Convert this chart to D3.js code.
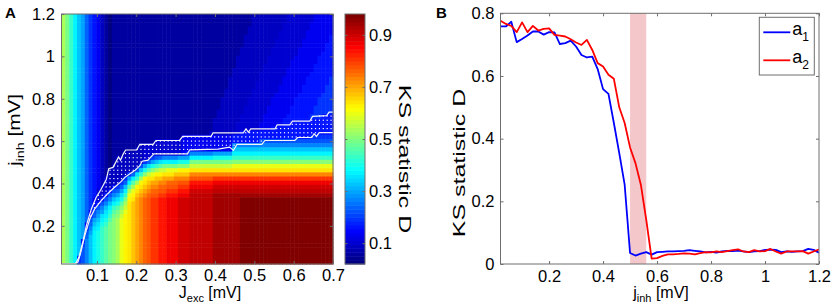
<!DOCTYPE html>
<html>
<head>
<meta charset="utf-8">
<script src="https://cdn.jsdelivr.net/npm/d3@7"></script>
<style>
  body { margin: 0; background: #fff; }
  svg { display: block; }
</style>
</head>
<body>
<svg id="fig" width="833" height="307"></svg>
<script>
// ---------------- data ----------------

// Panel A: KS statistic D over (Jexc, jinh).
// One string per Jexc column (0.01 .. 0.70, left to right); the characters run
// from jinh = 1.2 (top) down to 0.02 (bottom). Each character is a level 0..35
// spread over the colour bar range; spaces are only there to count rows in tens.
const levelChars = "0123456789abcdefghijklmnopqrstuvwxyz";
const heatCols = [
  "jjjjjjjjjj jjjjjjjjjj jjjjjjjjjj jjjjjjjjjj jjjjjjjjjj jjjjjjjjjj",
  "hhhhhhhhhh hhhhhhhhhh hhhhhhhhhh hhhhhhhhhh hhhhhhhhhh hhhhhhhhhh",
  "ffffffffff ffffffffff ffffffffff ffffffffff ffffffffff ffffffffff",
  "dddddddddd dddddddddd dddddddddd dddddddddd dddddddddd dddddddddd",
  "bbbbbbbbbb bbbbbbbbbb bbbbbbbbbb bbbbbbbbbb bbbbbbbbbb bbbbbbbb66",
  "aaaaaaaaaa aaaaaaaaaa aaaaaaaaaa aaaaaaaaaa aaaaaaaaaa aaaa567777",
  "8888888888 8888888888 8888888888 8888888888 8888888888 4578999999",
  "6666666666 6666666666 6666666666 6666666666 6666666457 89abbbbbbb",
  "5555555555 5555555555 5555555555 5555555555 555544578a bcdddddddd",
  "4444444444 4444444444 4444444444 4444444444 44333579ab cdeeeeeeee",
  "2222222222 2222222222 2222222222 2222222222 2333579acd efffffffff",
  "1111111111 1111111111 1111111111 1111111113 333579bcde fggggggggg",
  "0000000000 0000000000 0000000000 0000000222 22579bdefg hhhhhhhhhh",
  "1111111111 1111111111 1111111111 1111112222 2579bdfghi iiiiiiiiii",
  "1111111111 1111111111 1111111111 1111222222 268aceghij jjjjjjjjjj",
  "1111111111 1111111111 1111111111 1111222222 68acegijkl llllllllll",
  "1111111111 1111111111 1111111111 1112222226 8bdfhjklmm mmmmmmmmmm",
  "1111111111 1111111111 1111111111 111222226a dgjlmnnnnn nnnnnnnnnn",
  "1111111111 1111111111 1111111111 111222228d gjlmnooooo oooooooooo",
  "1111111111 1111111111 1111111111 11222227cf jmnopppppp pppppppppp",
  "1111111111 1111111111 1111111111 1222227bfj mnopqqqqqq qqqqqqqqqq",
  "1111111111 1111111111 1111111111 133336aeim nopqrrrrrr rrrrrrrrrr",
  "1111111111 1111111111 1111111111 133338cgkn opqrssssss ssssssssss",
  "1111111111 1111111111 1111111111 13336aeiln pqrstttttt tttttttttt",
  "1111111111 1111111111 1111111111 33337bfjmo pqrstttttt tttttttttt",
  "1111111111 1111111111 1111111111 33338cgkmo qrstuuuuuu uuuuuuuuuu",
  "1111111111 1111111111 1111111111 33339dhknp qrstuuuuuu uuuuuuuuuu",
  "1111111111 1111111111 1111111111 33339dhlnp rstuvvvvvv vvvvvvvvvv",
  "1111111111 1111111111 1111111111 33339dhlnp rstuvvvvvv vvvvvvvvvv",
  "1111111111 1111111111 1111111111 33339dhloq rstuvvvvvv vvvvvvvvvv",
  "1111111111 1111111111 1111111111 3333aeimoq stuvwwwwww wwwwwwwwww",
  "1111111111 1111111111 1111111114 4444aeimoq stuvwwwwww wwwwwwwwww",
  "1111111111 1111111111 1111111114 4446aeimoq stuvwwwwww wwwwwwwwww",
  "1111111111 1111111111 1111111114 4449dhknqs uvwxxxxxxx xxxxxxxxxx",
  "1111111111 1111111111 1111111114 4449dhknqs uvwxxxxxxx xxxxxxxxxx",
  "1111111111 1111111111 1111111114 4449dhknqs uvwxxxxxxx xxxxxxxxxx",
  "1111111111 1111111111 1111111114 4449dhknqs uvwxxxxxxx xxxxxxxxxx",
  "1111111111 1111111111 1111111114 4449dhknqs uvwxxxxxxx xxxxxxxxxx",
  "1111111111 1111111111 1111111124 4449dhknqs uvwxxxxxxx xxxxxxxxxx",
  "1111111111 1111111111 1111122224 444aehknqt vwxyyyyyyy yyyyyyyyyy",
  "1111111111 1111111111 1112222224 444aehknqt vwxyyyyyyy yyyyyyyyyy",
  "1111111111 1111111111 2222222224 444aehknqt vwxyyyyyyy yyyyyyyyyy",
  "1111111111 1111111122 2222222224 444aehknqt vwxyyyyyyy yyyyyyyyyy",
  "1111111111 1111122222 2222222224 444aehknqt vwxyyyyyyy yyyyyyyyyy",
  "1111111111 1112222222 2222222235 59bdfilnqt vwxyyyyyyy yyyyyyyyyy",
  "1111111111 2222222222 2222223335 59bdfilnqt vwxyyyyyyy yyyyyyyyyy",
  "1111111122 2222222222 2222333355 59bdfilnqt vwxyzzzzzz zzzzzzzzzz",
  "1111122222 2222222222 2233333355 59bdfilnqt vwxyzzzzzz zzzzzzzzzz",
  "1112222222 2222222222 3333333355 59bdfilnqt vwxyzzzzzz zzzzzzzzzz",
  "2222222222 2222222233 3333333355 59bdfilnqt vwxyzzzzzz zzzzzzzzzz",
  "2222222222 2222223333 3333333355 59bdfilnqt vwxyzzzzzz zzzzzzzzzz",
  "2222222222 2222333333 3333334455 79bdfilnqt vwxyzzzzzz zzzzzzzzzz",
  "2222222222 2233333333 3333444455 79bdfilnqt vwxyzzzzzz zzzzzzzzzz",
  "2222222222 3333333333 3344444455 79bdfilnqt vwxyzzzzzz zzzzzzzzzz",
  "2222222233 3333333333 4444444555 79bdfilnqt vwxyzzzzzz zzzzzzzzzz",
  "2222223333 3333333334 4444444555 79bdfilnqt vwxyzzzzzz zzzzzzzzzz",
  "2222333333 3333333444 4444444555 79bdfilnqt vwxyzzzzzz zzzzzzzzzz",
  "2233333333 3333344444 4444455555 79bdfilnqt vwxyzzzzzz zzzzzzzzzz",
  "3333333333 3334444444 4444555555 79bdfilnqt vwxyzzzzzz zzzzzzzzzz",
  "3333333333 3444444444 4455555555 79bdfilnqt vwxyzzzzzz zzzzzzzzzz",
  "3333333333 4444444444 5555555555 79bdfilnqt vwxyzzzzzz zzzzzzzzzz",
  "3333333344 4444444445 5555555555 79bdfilnqt vwxyzzzzzz zzzzzzzzzz",
  "3333334444 4444444555 5555555555 79bdfilnqt vwxyzzzzzz zzzzzzzzzz",
  "3333444444 4444455555 5555555555 79bdfilnqt vwxyzzzzzz zzzzzzzzzz",
  "3344444444 4444555555 5555655556 79bdfilnqt vwxyzzzzzz zzzzzzzzzz",
  "4444444444 4455555555 5566655556 79bdfilnqt vwxyzzzzzz zzzzzzzzzz",
  "4444444444 5555555555 6666655556 79bdfilnqt vwxyzzzzzz zzzzzzzzzz",
  "4444444445 5555555556 6666555556 79bdfilnqt vwxyzzzzzz zzzzzzzzzz",
  "4444444555 5555555666 6666555556 79bdfilnqt vwxyzzzzzz zzzzzzzzzz",
  "4444455555 5555566666 6666555556 79bdfilnqt vwxyzzzzzz zzzzzzzzzz"
];
const jexcExtent = [0.01, 0.70];
const jinhExtent = [0.02, 1.2];
const colorbarExtent = [0.02, 0.98];
const aXTicks = [0.1, 0.2, 0.3, 0.4, 0.5, 0.6, 0.7];
const aYTicks = [0.2, 0.4, 0.6, 0.8, 1, 1.2];
const cbTicks = [0.1, 0.3, 0.5, 0.7, 0.9];

// white contour lines around the dotted region, [Jexc, jinh]
const upperContour = [
  [0.01, 0.022], [0.046, 0.022], [0.054, 0.05], [0.065, 0.13], [0.073, 0.2],
  [0.086, 0.28], [0.098, 0.334], [0.111, 0.374], [0.124, 0.42], [0.13, 0.47],
  [0.141, 0.476], [0.155, 0.525], [0.16, 0.51], [0.167, 0.54], [0.173, 0.558],
  [0.201, 0.558], [0.209, 0.585], [0.243, 0.585], [0.25, 0.603], [0.31, 0.603],
  [0.318, 0.622], [0.39, 0.622], [0.395, 0.639], [0.472, 0.639], [0.479, 0.658],
  [0.485, 0.642], [0.491, 0.658], [0.553, 0.658], [0.558, 0.677], [0.59, 0.677],
  [0.597, 0.694], [0.641, 0.694], [0.648, 0.717], [0.684, 0.72], [0.69, 0.737],
  [0.70, 0.737]
];
const lowerContour = [
  [0.046, 0.022], [0.052, 0.03], [0.06, 0.082], [0.069, 0.153], [0.082, 0.232],
  [0.094, 0.279], [0.111, 0.319], [0.128, 0.353], [0.145, 0.382], [0.162, 0.41],
  [0.171, 0.429], [0.183, 0.445], [0.196, 0.461], [0.209, 0.484], [0.215, 0.505],
  [0.23, 0.51], [0.238, 0.527], [0.245, 0.54], [0.33, 0.54], [0.336, 0.559],
  [0.408, 0.562], [0.437, 0.572], [0.447, 0.556], [0.456, 0.585], [0.519, 0.585],
  [0.527, 0.603], [0.603, 0.603], [0.61, 0.617], [0.646, 0.617], [0.652, 0.635],
  [0.658, 0.622], [0.665, 0.64], [0.70, 0.64]
];

// Panel B: KS statistic D against jinh for a1 and a2
const jinhB = [
  0.02, 0.04, 0.06, 0.08, 0.10, 0.12, 0.14, 0.16, 0.18, 0.20,
  0.22, 0.24, 0.26, 0.28, 0.30, 0.32, 0.34, 0.36, 0.38, 0.40,
  0.42, 0.44, 0.46, 0.48, 0.50, 0.52, 0.54, 0.56, 0.58, 0.60,
  0.62, 0.64, 0.66, 0.68, 0.70, 0.72, 0.74, 0.76, 0.78, 0.80,
  0.82, 0.84, 0.86, 0.88, 0.90, 0.92, 0.94, 0.96, 0.98, 1.00,
  1.02, 1.04, 1.06, 1.08, 1.10, 1.12, 1.14, 1.16, 1.18, 1.20
];
const ksA1 = [
  0.758, 0.758, 0.773, 0.708, 0.718, 0.729, 0.742, 0.742, 0.732, 0.740,
  0.739, 0.702, 0.705, 0.713, 0.694, 0.667, 0.659, 0.662, 0.622, 0.558,
  0.543, 0.450, 0.354, 0.253, 0.035, 0.027, 0.033, 0.038, 0.030, 0.038,
  0.039, 0.040, 0.040, 0.041, 0.042, 0.044, 0.042, 0.040, 0.037, 0.039,
  0.036, 0.040, 0.042, 0.041, 0.043, 0.040, 0.038, 0.040, 0.041, 0.045,
  0.046, 0.045, 0.038, 0.040, 0.039, 0.040, 0.041, 0.048, 0.045, 0.036
];
const ksA2 = [
  0.776, 0.766, 0.760, 0.740, 0.771, 0.740, 0.760, 0.745, 0.750, 0.752,
  0.731, 0.729, 0.726, 0.717, 0.707, 0.699, 0.715, 0.683, 0.641, 0.630,
  0.604, 0.591, 0.500, 0.450, 0.372, 0.322, 0.253, 0.141, 0.017, 0.019,
  0.026, 0.031, 0.031, 0.032, 0.034, 0.033, 0.031, 0.035, 0.038, 0.037,
  0.040, 0.038, 0.041, 0.044, 0.047, 0.040, 0.038, 0.044, 0.040, 0.041,
  0.048, 0.040, 0.033, 0.040, 0.040, 0.040, 0.041, 0.033, 0.040, 0.046
];
const shadedBand = [0.5, 0.56];
const bXDomain = [0.02, 1.2];
const bYDomain = [0, 0.8];
const bXTicks = [0.2, 0.4, 0.6, 0.8, 1, 1.2];
const bYTicks = [0, 0.2, 0.4, 0.6, 0.8];
const seriesNames = ["1", "2"];
const seriesColors = ["#0000ff", "#ff0000"];

// ---------------- drawing ----------------
const fontFamily = '"Liberation Sans", Arial, Helvetica, sans-serif';
const axisGray = "#6e6e6e";
const tickFmt = d3.format("~g");
const svg = d3.select("#fig").attr("font-family", fontFamily);

// MATLAB style jet colormap, 64 steps
function jet(t) {
  t = Math.round(Math.max(0, Math.min(1, t)) * 63) / 63;
  const ch = (v) => Math.round(255 * Math.max(0, Math.min(1, 1.5 - Math.abs(v))));
  return `rgb(${ch(4 * t - 3)},${ch(4 * t - 2)},${ch(4 * t - 1)})`;
}

function styleAxis(g, keepLabels) {
  g.attr("font-family", fontFamily).attr("font-size", 16.5);
  g.select(".domain").remove();
  g.selectAll(".tick line").attr("stroke", axisGray);
  g.selectAll(".tick text").attr("fill", "#000");
  if (!keepLabels) g.selectAll(".tick text").remove();
}

function subLabel(sel, main, sub, rest) {
  sel.append("tspan").text(main);
  sel.append("tspan").attr("font-size", 11).attr("dy", 4).text(sub);
  sel.append("tspan").attr("dy", -4).text(rest);
}

// ---- panel A: heat map ----
const aBox = { left: 61.5, right: 333, top: 14, bottom: 264 };
const aX = d3.scaleLinear().domain(jexcExtent).range([aBox.left, aBox.right]);
const aY = d3.scaleLinear().domain(jinhExtent).range([aBox.bottom, aBox.top]);
const grid = heatCols.map((s) => s.replace(/ /g, ""));
const nRows = grid[0].length;
const colBand = d3.scaleBand().domain(d3.range(grid.length)).range([aBox.left, aBox.right]);
const rowBand = d3.scaleBand().domain(d3.range(nRows)).range([aBox.top, aBox.bottom]);
const levelToD = d3.scaleLinear().domain([0, levelChars.length - 1]).range(colorbarExtent);
const cbNorm = d3.scaleLinear().domain(colorbarExtent).range([0, 1]);

const cells = [];
grid.forEach((col, c) => {
  for (let r = 0; r < nRows; r++) {
    const ch = col[r] || col[col.length - 1];
    cells.push({ c, r, d: levelToD(levelChars.indexOf(ch)) });
  }
});

const gA = svg.append("g");
gA.append("g")
  .selectAll("rect")
  .data(cells)
  .join("rect")
  .attr("x", (d) => colBand(d.c))
  .attr("y", (d) => rowBand(d.r))
  .attr("width", colBand.bandwidth() + 0.5)
  .attr("height", rowBand.bandwidth() + 0.5)
  .attr("fill", (d) => jet(cbNorm(d.d)));

// dotted region between the two contours
const hatchPoly = upperContour
  .concat(lowerContour.slice().reverse())
  .map(([j, i]) => [aX(j), aY(i)]);
const dots = cells.filter((d) =>
  d3.polygonContains(hatchPoly, [
    colBand(d.c) + colBand.bandwidth() / 2,
    rowBand(d.r) + rowBand.bandwidth() / 2,
  ])
);
gA.append("g")
  .selectAll("rect")
  .data(dots)
  .join("rect")
  .attr("x", (d) => colBand(d.c) + colBand.bandwidth() / 2 - 0.6)
  .attr("y", (d) => rowBand(d.r) + rowBand.bandwidth() / 2 - 0.6)
  .attr("width", 1.2)
  .attr("height", 1.2)
  .attr("fill", "#fff");

const contourLine = d3.line().x((p) => aX(p[0])).y((p) => aY(p[1]));
gA.selectAll("path.contour")
  .data([upperContour, lowerContour])
  .join("path")
  .attr("class", "contour")
  .attr("d", contourLine)
  .attr("fill", "none")
  .attr("stroke", "#f4f4f4")
  .attr("stroke-width", 1.2);

gA.append("rect")
  .attr("x", aBox.left).attr("y", aBox.top)
  .attr("width", aBox.right - aBox.left).attr("height", aBox.bottom - aBox.top)
  .attr("fill", "none").attr("stroke", axisGray);

gA.append("g").attr("transform", `translate(0,${aBox.bottom})`)
  .call(d3.axisBottom(aX).tickValues(aXTicks).tickSize(-3).tickPadding(5).tickFormat(tickFmt))
  .call((g) => styleAxis(g, true));
gA.append("g").attr("transform", `translate(0,${aBox.top})`)
  .call(d3.axisTop(aX).tickValues(aXTicks).tickSize(-3))
  .call((g) => styleAxis(g, false));
gA.append("g").attr("transform", `translate(${aBox.left},0)`)
  .call(d3.axisLeft(aY).tickValues(aYTicks).tickSize(-3).tickPadding(6.5).tickFormat(tickFmt))
  .call((g) => styleAxis(g, true));
gA.append("g").attr("transform", `translate(${aBox.right},0)`)
  .call(d3.axisRight(aY).tickValues(aYTicks).tickSize(-3))
  .call((g) => styleAxis(g, false));

gA.append("text")
  .attr("x", 210).attr("y", 298)
  .attr("text-anchor", "middle").attr("font-size", 16)
  .call((t) => subLabel(t, "J", "exc", " [mV]"));
// rotated labels are drawn stretched along their length, as in the original figure
gA.append("text")
  .attr("transform", "translate(20,130) rotate(-90) scale(1.3,1)")
  .attr("text-anchor", "middle").attr("font-size", 16)
  .call((t) => subLabel(t, "j", "inh", " [mV]"));

// colour bar
const cbBox = { left: 345, right: 365, top: 14, bottom: 264 };
const cbY = d3.scaleLinear().domain(colorbarExtent).range([cbBox.bottom, cbBox.top]);
const cbSteps = d3.range(64).map((i) => [
  levelToD(i * 35 / 64), levelToD((i + 1) * 35 / 64),
]);
gA.append("g")
  .selectAll("rect")
  .data(cbSteps)
  .join("rect")
  .attr("x", cbBox.left)
  .attr("y", (d) => cbY(d[1]))
  .attr("width", cbBox.right - cbBox.left)
  .attr("height", (d) => cbY(d[0]) - cbY(d[1]) + 0.5)
  .attr("fill", (d) => jet(cbNorm((d[0] + d[1]) / 2)));
gA.append("rect")
  .attr("x", cbBox.left).attr("y", cbBox.top)
  .attr("width", cbBox.right - cbBox.left).attr("height", cbBox.bottom - cbBox.top)
  .attr("fill", "none").attr("stroke", axisGray);
gA.append("g").attr("transform", `translate(${cbBox.right},0)`)
  .call(d3.axisRight(cbY).tickValues(cbTicks).tickSize(-2.5).tickPadding(4).tickFormat(tickFmt))
  .call((g) => styleAxis(g, true));
gA.append("g").attr("transform", `translate(${cbBox.left},0)`)
  .call(d3.axisLeft(cbY).tickValues(cbTicks).tickSize(-2.5))
  .call((g) => styleAxis(g, false));
gA.append("text")
  .attr("transform", "translate(399,159) rotate(90) scale(1.47,1)")
  .attr("text-anchor", "middle").attr("font-size", 17)
  .text("KS statistic D");

svg.append("text").attr("x", 5).attr("y", 18)
  .attr("font-size", 15).attr("font-weight", "bold").text("A");

// ---- panel B: line plot ----
const bBox = { left: 500.5, right: 819, top: 13.3, bottom: 264 };
const bX = d3.scaleLinear().domain(bXDomain).range([bBox.left, bBox.right]);
const bY = d3.scaleLinear().domain(bYDomain).range([bBox.bottom, bBox.top]);
const gB = svg.append("g");

gB.append("clipPath").attr("id", "clipB")
  .append("rect")
  .attr("x", bBox.left).attr("y", bBox.top)
  .attr("width", bBox.right - bBox.left).attr("height", bBox.bottom - bBox.top);

gB.append("rect")
  .attr("x", bX(shadedBand[0])).attr("y", bBox.top)
  .attr("width", bX(shadedBand[1]) - bX(shadedBand[0]))
  .attr("height", bBox.bottom - bBox.top)
  .attr("fill", "#f4c7cb");

const series = [ksA1, ksA2].map((vals, i) => ({
  name: seriesNames[i],
  color: seriesColors[i],
  points: vals.map((v, k) => [jinhB[k], v]),
}));
const ksLine = d3.line().x((p) => bX(p[0])).y((p) => bY(p[1]));
gB.append("g").attr("clip-path", "url(#clipB)")
  .selectAll("path")
  .data(series)
  .join("path")
  .attr("d", (d) => ksLine(d.points))
  .attr("fill", "none")
  .attr("stroke", (d) => d.color)
  .attr("stroke-width", 1.8)
  .attr("stroke-linejoin", "round");

gB.append("rect")
  .attr("x", bBox.left).attr("y", bBox.top)
  .attr("width", bBox.right - bBox.left).attr("height", bBox.bottom - bBox.top)
  .attr("fill", "none").attr("stroke", axisGray);

gB.append("g").attr("transform", `translate(0,${bBox.bottom})`)
  .call(d3.axisBottom(bX).tickValues(bXTicks).tickSize(-3).tickPadding(6).tickFormat(tickFmt))
  .call((g) => styleAxis(g, true));
gB.append("g").attr("transform", `translate(0,${bBox.top})`)
  .call(d3.axisTop(bX).tickValues(bXTicks).tickSize(-3))
  .call((g) => styleAxis(g, false));
gB.append("g").attr("transform", `translate(${bBox.left},0)`)
  .call(d3.axisLeft(bY).tickValues(bYTicks).tickSize(-3).tickPadding(6).tickFormat(tickFmt))
  .call((g) => styleAxis(g, true));
gB.append("g").attr("transform", `translate(${bBox.right},0)`)
  .call(d3.axisRight(bY).tickValues(bYTicks).tickSize(-3))
  .call((g) => styleAxis(g, false));

gB.append("text")
  .attr("x", 661).attr("y", 298)
  .attr("text-anchor", "middle").attr("font-size", 16)
  .call((t) => subLabel(t, "j", "inh", " [mV]"));
gB.append("text")
  .attr("transform", "translate(465,163) rotate(-90) scale(1.47,1)")
  .attr("text-anchor", "middle").attr("font-size", 17)
  .text("KS statistic D");

// legend
const legend = gB.append("g").attr("transform", "translate(759.3,17.3)");
legend.append("rect")
  .attr("width", 55).attr("height", 57.7)
  .attr("fill", "#fff").attr("stroke", axisGray);
const entry = legend.selectAll("g.entry")
  .data(series)
  .join("g")
  .attr("class", "entry")
  .attr("transform", (d, i) => `translate(0,${15 + i * 28})`);
entry.append("line")
  .attr("x1", 4).attr("x2", 31)
  .attr("stroke", (d) => d.color).attr("stroke-width", 1.8);
entry.append("text")
  .attr("x", 33).attr("y", 3).attr("font-size", 18)
  .call((t) => {
    t.append("tspan").text("a");
    t.append("tspan").attr("font-size", 12).attr("dy", 6).text((d) => d.name);
  });

svg.append("text").attr("x", 436).attr("y", 18)
  .attr("font-size", 15).attr("font-weight", "bold").text("B");
</script>
</body>
</html>
